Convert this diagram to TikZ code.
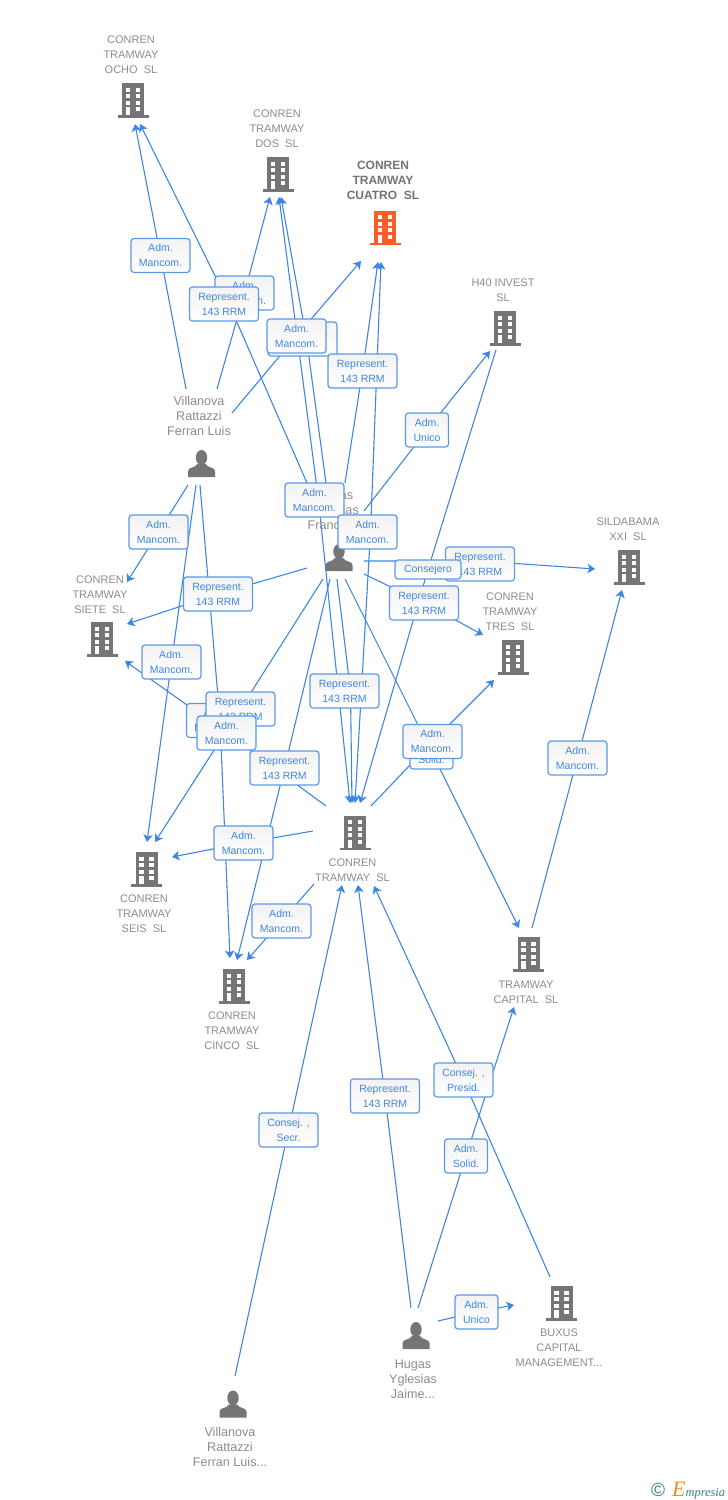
\documentclass[tikz,border=0pt]{standalone}
\usepackage{fontspec}
\setmainfont{Liberation Sans}
\newfontfamily\logofont{Liberation Serif}
\usetikzlibrary{arrows.meta, calc, backgrounds}

\definecolor{linkblue}{HTML}{3F86E2}
\definecolor{textgrey}{HTML}{8C8C8C}
\definecolor{icongrey}{HTML}{757575}
\definecolor{iconorange}{HTML}{FF5B2B}
\definecolor{logoteal}{HTML}{2F7C8C}
\definecolor{logoorange}{HTML}{F58A1F}

\tikzset{
  link/.style={draw=linkblue, line width=1.1pt, -{Stealth[length=7.5pt,width=9.5pt,inset=2pt]}},
  linkboth/.style={draw=linkblue, line width=1.1pt, {Stealth[length=7.5pt,width=9.5pt,inset=2pt]}-{Stealth[length=7.5pt,width=9.5pt,inset=2pt]}},
  tagbox/.style={draw=linkblue!85!white, line width=1.2pt, rounded corners=3pt, top color=black!5, bottom color=white,
    text=linkblue, font=\fontsize{10.5}{15}\selectfont, align=center, inner sep=0pt, minimum height=34pt},
  admbox/.style={tagbox, minimum width=59pt},
  repbox/.style={tagbox, minimum width=69pt},
  slimbox/.style={tagbox, minimum width=43pt},
  complabel/.style={text=textgrey, font=\fontsize{11}{15}\selectfont, align=center, inner sep=0pt, yshift=-0.8pt},
  perslabel/.style={text=textgrey, font=\fontsize{12.6}{15}\selectfont, align=center, inner sep=0pt},
  pics/building/.style={code={
    \fill[#1] (-11,-17) rectangle (11,15);
    \fill[#1] (-15.5,15) rectangle (15.5,17.5);
    \foreach \wy in {-12.5,-6,0.5}{
      \fill[white] (-7.5,\wy) rectangle (-3,\wy+4);
      \fill[white] (2.5,\wy) rectangle (7,\wy+4);
    }
    \fill[white] (-7.5,7) rectangle (-3,15);
    \fill[white] (2.5,7) rectangle (7,11);
  }},
  pics/person/.style={code={
    \fill[icongrey] (0,-7.5) ellipse [x radius=5.7, y radius=7.5];
    \fill[icongrey] (-13.5,12) -- (-13.5,6) .. controls (-13.5,2) and (-6,3) .. (-4,-1)
      -- (4,-1) .. controls (6,3) and (13.5,2) .. (13.5,6) -- (13.5,12) -- cycle;
  }},
}

\begin{document}
\begin{tikzpicture}[x=1pt, y=-1pt]
  \useasboundingbox (0,0) rectangle (728,1500);

  % companies
  \pic at (133,100) {building=icongrey};
  \pic at (278,174) {building=icongrey};
  \pic at (385,227.5) {building=iconorange};
  \pic at (505,328) {building=icongrey};
  \pic at (629,567) {building=icongrey};
  \pic at (102,639) {building=icongrey};
  \pic at (513,657) {building=icongrey};
  \pic at (146.5,869) {building=icongrey};
  \pic at (234,986) {building=icongrey};
  \pic at (355,832.5) {building=icongrey};
  \pic at (528.5,954) {building=icongrey};
  \pic at (561.5,1303) {building=icongrey};

  \node[complabel] (ocho) at (131,54) {CONREN\\TRAMWAY\\OCHO~~SL};
  \node[complabel] (dos) at (277,128) {CONREN\\TRAMWAY\\DOS~~SL};
  \node[complabel, text=black!55, font=\fontsize{12}{15}\selectfont\bfseries] (cuatro) at (383,180) {CONREN\\TRAMWAY\\CUATRO~~SL};
  \node[complabel] (hcuarenta) at (503,289.5) {H40 INVEST\\SL};
  \node[complabel] (sildabama) at (628,528.5) {SILDABAMA\\XXI~~SL};
  \node[complabel] (siete) at (100,594) {CONREN\\TRAMWAY\\SIETE~~SL};
  \node[complabel] (tres) at (510,611) {CONREN\\TRAMWAY\\TRES~~SL};
  \node[complabel] (seis) at (144,913) {CONREN\\TRAMWAY\\SEIS~~SL};
  \node[complabel] (cinco) at (232,1030) {CONREN\\TRAMWAY\\CINCO~~SL};
  \node[complabel] (central) at (352.5,869.5) {CONREN\\TRAMWAY~~SL};
  \node[complabel] (tcapital) at (526,991.5) {TRAMWAY\\CAPITAL~~SL};
  \node[complabel] (buxus) at (559,1347) {BUXUS\\CAPITAL\\MANAGEMENT...};

  % people
  \pic at (201.5,465) {person};
  \pic at (339,559) {person};
  \pic at (416,1337) {person};
  \pic at (233,1405.5) {person};

  \node[perslabel] (villanova) at (199,416) {Villanova\\Rattazzi\\Ferran Luis};
  \node[perslabel] (hugasf) at (335,510) {Hugas\\Yglesias\\Francisco};
  \node[perslabel] (hugasj) at (413,1379) {Hugas\\Yglesias\\Jaime...};
  \node[perslabel] (villanovab) at (230,1447) {Villanova\\Rattazzi\\Ferran Luis...};

  % tags, back to front
  \node[admbox] (aocho) at (160.5,255.5) {Adm.\\Mancom.};
  \node[admbox] (ados) at (244.5,293) {Adm.\\Mancom.};
  \node[repbox] (rocho) at (224,304) {Represent.\\143 RRM};
  \node[repbox] (rdos) at (302.5,339) {Represent.\\143 RRM};
  \node[admbox] (acuatro) at (296.5,336) {Adm.\\Mancom.};
  \node[repbox] (rcuatro) at (362.5,371) {Represent.\\143 RRM};
  \node[slimbox] (uhcuarenta) at (427,430) {Adm.\\Unico};
  \node[admbox] (mdos) at (314.5,500) {Adm.\\Mancom.};
  \node[admbox] (mcuatro) at (367.5,532) {Adm.\\Mancom.};
  \node[repbox] (rsilda) at (480,564) {Represent.\\143 RRM};
  \node[tagbox, minimum width=66pt, minimum height=19pt] (conshcuarenta) at (428,569.5) {Consejero};
  \node[repbox] (rtres) at (424,603) {Represent.\\143 RRM};
  \node[admbox] (asiete) at (158.5,532) {Adm.\\Mancom.};
  \node[repbox] (rsiete) at (218,594) {Represent.\\143 RRM};
  \node[admbox] (aseis) at (171.5,662) {Adm.\\Mancom.};
  \node[repbox] (rcentral) at (344.5,691) {Represent.\\143 RRM};
  \node[admbox] (acinco) at (216,720.5) {Adm.\\Mancom.};
  \node[repbox] (rseis) at (240.5,709) {Represent.\\143 RRM};
  \node[admbox] (asietec) at (226.5,733) {Adm.\\Mancom.};
  \node[repbox] (rcinco) at (284.5,768) {Represent.\\143 RRM};
  \node[slimbox] (stcapital) at (431.5,752) {Adm.\\Solid.};
  \node[admbox] (atres) at (432.5,741.5) {Adm.\\Mancom.};
  \node[admbox] (asilda) at (577.5,758) {Adm.\\Mancom.};
  \node[admbox] (aseisc) at (243.5,843) {Adm.\\Mancom.};
  \node[admbox] (acincoc) at (281.5,921) {Adm.\\Mancom.};
  \node[tagbox, minimum width=59pt] (cssecr) at (288.5,1130) {Consej. ,\\Secr.};
  \node[repbox] (rhugas) at (385,1096) {Represent.\\143 RRM};
  \node[tagbox, minimum width=59pt] (cspresid) at (463.5,1080) {Consej. ,\\Presid.};
  \node[slimbox] (shugas) at (466,1156) {Adm.\\Solid.};
  \node[slimbox] (ubuxus) at (476.5,1312) {Adm.\\Unico};

  % free ends of the connectors
  \foreach \n/\cx/\cy in {
    vocho/186/389, tocho/135/124, vdos/217/389, tdosa/270/197, vcuatro/232/413, tcuatroa/361/261,
    hocho/307/483, tochob/140/124, hdos/326/483, tdosb/281/197, cdos/350/803, tdosc/279/197,
    hcuatro/345/483, tcuatrob/378/262, ccuatro/355/803, tcuatroc/381/262,
    hhcuarenta/364/511, thcuarenta/490/351, fhcuarenta/496/350, tcenta/360/803,
    hsilda/364/561, tsilda/595/569, htres/364/574, ttres/483/635,
    hcentral/337/579, tcentb/352/803, hseis/323/579, tseisa/155/842,
    hcinco/330/579, tcincoa/237/960, hsiete/307/568, tsietea/127/624,
    htcapital/345/579, ttcapa/519/928, vsiete/188/485, tsieteb/127/582,
    vseis/196/485, tseisb/147/842, vcinco/200/485, tcincob/230/958,
    csiete/326/806, tsietec/125/661, cseis/313/831, tseisc/172/857,
    ccinco/314/884, tcincoc/247/960, ctres/371/806, ttresb/494/680,
    tcsilda/532/928, tsildab/622/590, bvcentral/235/1376, tcentc/342/885,
    jcentral/411/1308, tcentd/358/885, jtcapital/418/1308, ttcapb/514/1007,
    jbuxus/438/1321, tbuxus/514/1305, bxcentral/550/1277, tcente/374/886}
    \coordinate (\n) at (\cx,\cy);

  % connectors run behind everything, through their tag
  \begin{scope}[on background layer]
    \foreach \src/\via/\ox/\oy/\dst in {
      vocho/aocho/0/0/tocho, vdos/ados/0/0/tdosa, vcuatro/acuatro/0/0/tcuatroa,
      hocho/rocho/5/0/tochob, hdos/rdos/4/0/tdosb, hcuatro/rcuatro/0/0/tcuatrob,
      hhcuarenta/uhcuarenta/0/0/thcuarenta, fhcuarenta/conshcuarenta/0/0/tcenta,
      hsilda/rsilda/0/-3/tsilda, htres/rtres/0/0/ttres, hcentral/rcentral/6/0/tcentb,
      hseis/rseis/0/0/tseisa, hcinco/rcinco/0/0/tcincoa, hsiete/rsiete/0/0/tsietea,
      htcapital/stcapital/0/0/ttcapa, vsiete/asiete/0/0/tsieteb, vseis/aseis/0/0/tseisb,
      vcinco/acinco/4/0/tcincob, csiete/asietec/0/0/tsietec, cseis/aseisc/0/0/tseisc,
      ccinco/acincoc/0/0/tcincoc, ctres/atres/0/0/ttresb, tcsilda/asilda/0/0/tsildab,
      bvcentral/cssecr/0/0/tcentc, jcentral/rhugas/0/0/tcentd, jtcapital/shugas/0/0/ttcapb,
      jbuxus/ubuxus/0/0/tbuxus, bxcentral/cspresid/0/0/tcente}
      \draw[link] (\src) -- ($(\via.center)+(\ox,\oy)$) -- (\dst);
    \draw[linkboth] (cdos) -- ($(mdos.center)+(4,0)$) -- (tdosc);
    \draw[linkboth] (ccuatro) -- ($(mcuatro.center)+(3,0)$) -- (tcuatroc);
  \end{scope}

  % logo
  \node[text=logoteal, font=\fontsize{19}{19}\selectfont, inner sep=0pt] (logoc) at (658,1489.5) {©};
  \node[anchor=base west, inner sep=0pt, font=\logofont\itshape\fontsize{12.4}{15}\selectfont, text=logoteal] (logotext) at (672,1496)
    {{\color{logoorange}\fontsize{22}{15}\selectfont E}mpresia};
\end{tikzpicture}
\end{document}
